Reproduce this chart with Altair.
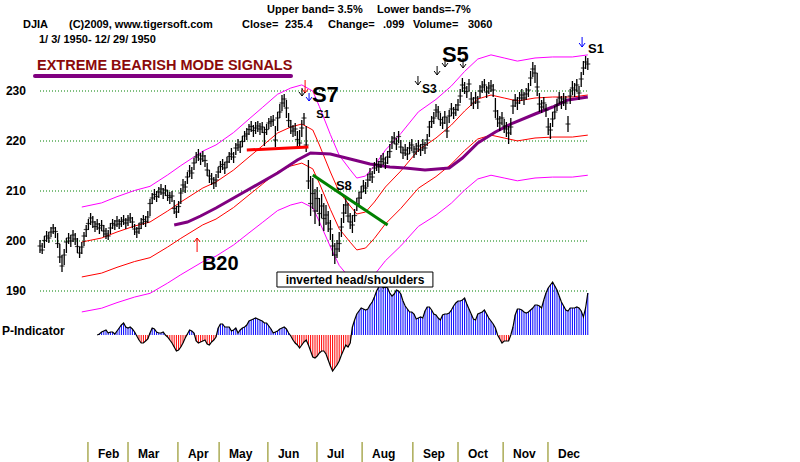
import altair as alt
import pandas as pd

# ---------------- data ----------------
close = [
    199.0, 198.2, 200.1, 201.0, 200.6, 201.8, 202.6, 201.9, 199.5, 196.8,
    195.0, 197.2, 199.8, 200.6, 200.0, 201.2, 200.4, 198.9, 197.6, 198.8,
    201.0, 202.3, 203.5, 204.6, 203.8, 202.9, 203.4, 202.6, 203.1, 202.0,
    201.4, 201.0, 202.6, 203.5, 203.2, 204.0, 203.4, 203.9, 204.2, 203.6,
    204.2, 204.6, 203.8, 202.4, 201.8, 202.5, 203.6, 204.3, 203.9, 204.8,
    207.5, 208.6, 209.3, 208.9, 209.8, 210.4, 209.6, 210.2, 209.1, 208.7,
    209.0, 206.5, 205.8, 206.9, 209.6, 211.2, 210.8, 212.8, 214.0, 213.6,
    215.6, 216.8, 217.2, 216.4, 217.0, 216.1, 214.2, 213.0, 212.4, 211.6,
    212.2, 213.8, 214.9, 215.3, 214.6, 215.8, 216.9, 217.4, 216.8, 218.6,
    219.2, 218.8, 219.9, 221.0, 221.4, 222.3, 222.9, 222.1, 222.6, 223.0,
    222.4, 222.8, 221.7, 222.3, 223.6, 223.9, 224.2, 220.2, 224.6, 225.8,
    227.6, 228.4, 226.6, 224.1, 222.8, 222.0, 222.4, 220.3, 219.6, 222.6,
    224.6, 219.2, 212.0, 207.5, 209.5, 206.0, 208.5, 205.5, 207.0, 204.5,
    205.2, 203.6, 202.4, 199.0, 197.2, 198.4, 199.5, 202.8, 205.6, 207.2,
    205.0, 203.8, 203.2, 205.1, 207.4, 208.6, 209.8, 211.0, 210.6, 212.2,
    213.4, 212.8, 214.6, 215.3, 214.8, 215.9, 216.4, 215.6, 216.8, 217.9,
    219.8, 220.6, 219.4, 220.9, 218.8, 217.6, 218.2, 217.4, 218.6, 219.2,
    217.8, 218.4, 219.0, 218.2, 219.3, 218.6, 220.2, 222.8, 223.9, 224.6,
    226.2, 225.8, 224.3, 223.6, 224.8, 222.0, 225.0, 226.4, 225.6, 226.3,
    227.2, 229.0, 231.2, 230.6, 229.9, 231.4, 228.4, 227.6, 228.6, 227.8,
    230.0, 230.8, 231.2, 229.8, 230.6, 231.0, 230.2, 226.0, 224.4, 223.6,
    224.6, 223.0, 222.4, 221.6, 222.8, 227.0, 228.2, 227.6, 228.6, 229.2,
    228.6, 229.4, 230.2, 232.6, 234.4, 233.6, 230.8, 227.4, 226.8, 227.6,
    226.2, 222.8, 222.2, 224.4, 225.8, 227.2, 228.6, 227.8, 228.4, 227.6,
    223.4, 229.0, 230.6, 230.2, 231.2, 229.6, 232.4, 234.6, 235.8, 235.4,
]
high = [
    200.2, 199.6, 201.0, 202.0, 201.8, 202.8, 203.4, 202.8, 201.6, 199.4,
    197.2, 198.4, 200.6, 201.6, 201.2, 202.2, 201.6, 200.6, 198.8, 199.8,
    201.8, 203.2, 204.4, 205.6, 205.0, 204.0, 204.4, 203.6, 204.2, 203.2,
    202.6, 202.2, 203.6, 204.4, 204.2, 205.0, 204.4, 204.8, 205.2, 204.6,
    205.2, 205.6, 204.8, 203.4, 202.8, 203.6, 204.6, 205.2, 205.0, 206.0,
    208.4, 209.6, 210.4, 210.0, 210.8, 211.4, 210.6, 211.2, 210.2, 209.8,
    210.0, 208.2, 207.0, 208.0, 210.6, 212.4, 212.0, 213.8, 215.2, 214.8,
    216.6, 217.8, 218.4, 217.6, 218.0, 217.2, 215.6, 214.2, 213.6, 212.8,
    213.4, 214.8, 216.0, 216.4, 215.8, 216.8, 217.8, 218.6, 217.8, 219.6,
    220.4, 220.0, 221.0, 222.0, 222.6, 223.4, 224.0, 223.2, 223.8, 224.0,
    223.6, 223.8, 222.8, 223.4, 224.6, 225.0, 225.2, 223.0, 225.8, 227.4,
    229.2, 229.4, 228.2, 225.6, 224.2, 223.2, 223.6, 222.0, 222.2, 224.2,
    225.6, 223.0, 216.2, 213.0, 212.6, 210.4, 210.8, 208.6, 209.4, 207.6,
    207.2, 206.0, 204.2, 201.4, 199.6, 200.2, 201.8, 204.6, 207.4, 208.8,
    207.6, 205.6, 205.2, 206.4, 208.6, 209.8, 211.0, 212.2, 211.8, 213.4,
    214.6, 214.0, 215.8, 216.6, 216.0, 217.2, 217.6, 216.8, 218.0, 219.4,
    221.0, 221.8, 220.6, 222.0, 220.2, 218.8, 219.4, 218.8, 219.8, 220.4,
    219.0, 219.6, 220.2, 219.4, 220.4, 219.8, 221.4, 224.0, 225.0, 225.8,
    227.4, 227.0, 225.6, 224.8, 226.0, 224.8, 226.2, 227.6, 226.8, 227.4,
    228.4, 230.4, 232.6, 231.8, 231.0, 232.4, 229.8, 228.8, 229.8, 229.0,
    231.2, 232.0, 232.4, 231.0, 231.8, 232.2, 231.4, 228.6, 226.2, 225.0,
    225.8, 224.4, 223.8, 223.0, 224.6, 228.2, 229.4, 228.8, 229.8, 230.4,
    229.8, 230.6, 231.6, 234.0, 235.8, 235.2, 233.6, 229.6, 228.2, 228.8,
    227.4, 224.6, 223.6, 225.8, 227.0, 228.4, 229.8, 229.0, 229.6, 229.0,
    225.0, 230.4, 232.0, 231.6, 232.4, 231.0, 233.8, 236.0, 237.0, 236.6,
]
low = [
    197.6, 197.4, 198.6, 199.8, 199.6, 200.8, 201.4, 200.6, 198.6, 195.6,
    193.8, 195.2, 197.6, 199.4, 198.8, 199.8, 199.2, 197.6, 196.6, 197.4,
    199.0, 200.8, 202.2, 203.2, 202.6, 201.8, 202.2, 201.4, 202.0, 200.8,
    200.4, 200.2, 201.4, 202.4, 202.2, 202.8, 202.4, 202.8, 203.2, 202.4,
    203.0, 203.6, 202.6, 201.2, 200.6, 201.4, 202.4, 203.2, 202.8, 203.6,
    205.0, 207.4, 208.2, 207.8, 208.6, 209.2, 208.4, 209.0, 208.0, 207.4,
    207.8, 205.4, 204.6, 205.6, 207.4, 209.8, 209.6, 211.4, 212.8, 212.4,
    214.2, 215.6, 216.0, 215.2, 215.8, 214.8, 213.0, 211.6, 211.2, 210.4,
    210.8, 212.6, 213.6, 214.2, 213.4, 214.6, 215.6, 216.2, 215.6, 217.2,
    218.0, 217.6, 218.8, 219.8, 220.2, 221.2, 221.8, 220.8, 221.4, 221.8,
    221.2, 221.6, 219.0, 221.2, 222.4, 222.8, 223.0, 218.8, 222.0, 224.6,
    226.0, 226.8, 224.6, 222.8, 221.4, 220.8, 221.0, 218.8, 218.6, 220.8,
    223.2, 217.8, 210.4, 205.0, 206.4, 203.4, 205.8, 203.0, 204.6, 202.0,
    203.2, 201.8, 200.2, 197.0, 195.4, 196.6, 197.8, 200.8, 203.6, 205.4,
    203.8, 202.4, 201.6, 203.8, 206.0, 207.2, 208.4, 209.8, 209.4, 210.8,
    212.0, 211.6, 213.4, 214.0, 213.6, 214.6, 215.2, 214.4, 215.4, 216.6,
    218.4, 219.4, 218.2, 219.6, 217.6, 216.4, 217.0, 216.2, 217.4, 218.0,
    216.6, 217.2, 217.8, 217.0, 218.0, 217.4, 219.0, 220.8, 222.6, 223.4,
    224.8, 224.4, 223.0, 222.4, 223.4, 220.6, 223.6, 225.0, 224.4, 225.0,
    226.0, 227.6, 229.8, 229.4, 228.6, 230.0, 227.0, 226.4, 227.4, 226.4,
    228.6, 229.6, 230.0, 228.6, 229.4, 229.8, 228.8, 224.6, 222.8, 222.0,
    223.2, 221.6, 220.8, 219.4, 221.2, 225.4, 226.8, 226.2, 227.4, 228.0,
    227.2, 228.2, 228.8, 231.0, 232.8, 231.6, 229.0, 225.8, 225.6, 226.4,
    224.8, 221.2, 220.4, 222.8, 224.4, 226.0, 227.4, 226.4, 227.0, 226.2,
    221.8, 227.4, 229.2, 228.8, 229.8, 228.2, 230.8, 233.2, 234.4, 234.2,
]

# 21-day moving average (red), read at its vertices
ma_day = [19, 28, 35, 43, 50, 58, 64, 74, 80, 88, 95, 101, 108, 114, 119, 124,
          127, 132, 136, 141, 144, 148, 152, 157, 164, 172, 180, 187, 193, 199,
          205, 211, 217, 225, 233, 242, 249]
ma_val = [199.8, 200.6, 201.8, 203.0, 203.8, 206.0, 207.8, 210.6, 211.8, 214.2,
          216.8, 219.0, 221.6, 222.8, 223.4, 222.2, 219.2, 213.8, 209.8, 207.0,
          205.4, 205.8, 207.8, 210.8, 214.0, 218.2, 220.6, 223.2, 226.0, 228.4,
          229.2, 228.6, 228.0, 228.6, 228.8, 228.8, 229.2]
UPPER_PCT = 3.5
LOWER_PCTS = [-3.5, -7.0]

# longer moving average (thick purple)
slow_day = [61, 67, 73, 80, 92, 108, 117, 123, 132, 141, 150, 159, 166, 175,
            186, 192, 199, 207, 215, 225, 233, 240, 249]
slow_val = [203.2, 203.8, 205.0, 206.6, 209.6, 213.6, 216.2, 217.6, 217.4,
            216.4, 215.4, 214.8, 214.6, 214.2, 214.6, 216.6, 219.6, 221.8,
            223.6, 225.4, 226.8, 228.2, 228.8]

neck_day = [94, 122]
neck_val = [218.2, 218.8]
trend_day = [124, 158]
trend_val = [213.2, 203.2]

p_start = 26
p_ind = [
    0, 1, 3, 4, 5, 2, 3, 3, 1, 4,
    7, 10, 12, 8, 7, 8, 6, 3, -1, -5,
    -8, -8, -6, -4, 2, 7, 6, 3, 2, 2,
    3, 0, -2, -5, -8, -12, -16, -15, -12, -8,
    -3, 1, 5, 4, 2, -6, -8, -7, -6, -5,
    -9, -10, -7, -5, -2, 7, 11, 11, 8, 8,
    8, 4, 5, 7, 2, 5, 7, 8, 10, 14,
    15, 16, 17, 16, 15, 14, 12, 12, 9, 6,
    2, 3, 4, 6, 7, 8, 6, 2, -1, -5,
    -8, -10, -13, -10, -7, -5, -10, -16, -22, -23,
    -21, -18, -16, -16, -19, -25, -31, -36, -33, -30,
    -26, -20, -15, -10, -12, -8, 8, 15, 21, 24,
    27, 26, 25, 26, 30, 33, 38, 44, 48, 50,
    47, 48, 47, 42, 39, 41, 45, 44, 41, 34,
    29, 26, 23, 23, 21, 16, 17, 18, 17, 24,
    28, 28, 25, 21, 20, 17, 15, 20, 21, 21,
    22, 25, 29, 32, 34, 34, 35, 37, 31, 26,
    21, 16, 15, 21, 22, 23, 25, 21, 17, 14,
    11, 7, 0, -4, -8, -6, -6, -6, 0, 8,
    20, 26, 26, 25, 23, 22, 23, 25, 27, 30,
    30, 29, 27, 35, 42, 47, 50, 53, 49, 45,
    39, 33, 29, 25, 24, 27, 27, 27, 28, 27,
    24, 18, 27, 42,
]

months = ["Feb", "Mar", "Apr", "May", "Jun", "Jul", "Aug", "Sep", "Oct", "Nov", "Dec"]
month_day = [21.8, 40.0, 62.7, 81.4, 103.6, 125.9, 146.4, 169.5, 190.0, 210.5, 230.9]
grid_vals = [190, 200, 210, 220, 230]

# ---------------- tables ----------------
bars = pd.DataFrame({"day": list(range(len(close))), "lo": low, "hi": high, "c": close})
ma = pd.DataFrame({"day": ma_day, "ma": ma_val})
slow = pd.DataFrame({"day": slow_day, "v": slow_val})
neck = pd.DataFrame({"day": neck_day, "v": neck_val})
trend = pd.DataFrame({"day": trend_day, "v": trend_val})
pdf = pd.DataFrame({"day": [p_start + k for k in range(len(p_ind))], "p": p_ind})
grid = pd.DataFrame({"g": grid_vals})
mon = pd.DataFrame({"m": months, "day": month_day})

FONT = "Liberation Sans"
DAY_PX = 2.2     # pixels per trading day
PRICE_PX = 5.0   # pixels per index point
xs = alt.Scale(domain=[-40 / DAY_PX, 760 / DAY_PX], nice=False, zero=False)
ys = alt.Scale(domain=[155.8, 248.2], nice=False, zero=False)
ps = alt.Scale(domain=[-127, 335], nice=False, zero=False)


def X(f):
    return alt.X(f, type="quantitative", scale=xs, axis=None)


def Y(f):
    return alt.Y(f, type="quantitative", scale=ys, axis=None)


layers = []

# dotted grid
layers.append(alt.Chart(grid).mark_rule(color="#008000", strokeDash=[1, 2], strokeWidth=1).encode(
    x=alt.X(datum=0, scale=xs, axis=None), x2=alt.X2(datum=249.5), y=Y("g")))

# y labels
layers.append(alt.Chart(grid).mark_text(align="right", baseline="middle", font=FONT,
                                        fontWeight="bold", fontSize=12, color="black").encode(
    x=alt.X(datum=-6.4, scale=xs, axis=None), y=Y("g"), text=alt.Text("g:Q", format="d")))

# bands from the moving average
base_ma = alt.Chart(ma)
layers.append(base_ma.transform_calculate(u=f"datum.ma*(1+{UPPER_PCT}/100)").mark_line(
    color="#ff00ff", strokeWidth=1).encode(x=X("day"), y=Y("u")))
layers.append(base_ma.mark_line(color="#ff0000", strokeWidth=1).encode(x=X("day"), y=Y("ma")))
layers.append(base_ma.transform_calculate(l1=f"datum.ma*(1+{LOWER_PCTS[0]}/100)").mark_line(
    color="#ff0000", strokeWidth=1).encode(x=X("day"), y=Y("l1")))
layers.append(base_ma.transform_calculate(l2=f"datum.ma*(1+{LOWER_PCTS[1]}/100)").mark_line(
    color="#ff00ff", strokeWidth=1).encode(x=X("day"), y=Y("l2")))

# slow MA
layers.append(alt.Chart(slow).mark_line(color="#800080", strokeWidth=3).encode(x=X("day"), y=Y("v")))

# price bars
layers.append(alt.Chart(bars).mark_rule(color="black", strokeWidth=1.3).encode(
    x=X("day"), y=Y("lo"), y2="hi"))
layers.append(alt.Chart(bars).mark_tick(orient="horizontal", color="black", size=5, thickness=1.2).encode(
    x=X("day"), y=Y("c")))

# neckline and trend line
layers.append(alt.Chart(neck).mark_line(color="#ff0000", strokeWidth=3).encode(x=X("day"), y=Y("v")))
layers.append(alt.Chart(trend).mark_line(color="#008000", strokeWidth=3).encode(x=X("day"), y=Y("v")))

# P-indicator
layers.append(alt.Chart(pdf).mark_rule(strokeWidth=1).encode(
    x=X("day"),
    y=alt.Y("p:Q", scale=ps, axis=None),
    y2=alt.Y2(datum=0),
    color=alt.condition("datum.p >= 0", alt.value("#0000ff"), alt.value("#ff0000"))))
layers.append(alt.Chart(pdf).mark_line(color="black", strokeWidth=1.2).encode(
    x=X("day"), y=alt.Y("p:Q", scale=ps, axis=None)))

# month separators and labels
layers.append(alt.Chart(mon).mark_rule(color="#808000", strokeWidth=1).encode(
    x=X("day"), y=alt.Y(datum=159.8, scale=ys, axis=None), y2=alt.Y2(datum=155.8)))
layers.append(alt.Chart(mon).mark_text(align="left", baseline="alphabetic", dx=10, font=FONT,
                                       fontWeight="bold", fontSize=12, color="black").encode(
    x=X("day"), y=alt.Y(datum=156.6, scale=ys, axis=None), text="m:N"))


def txt(label, day, price, size, color="black", weight="bold", align="left", font=FONT, baseline="alphabetic"):
    return alt.Chart(pd.DataFrame({"t": [label]})).mark_text(
        align=align, baseline=baseline, font=font, fontSize=size, fontWeight=weight, color=color).encode(
        x=alt.X(datum=day, scale=xs, axis=None), y=alt.Y(datum=price, scale=ys, axis=None), text="t:N")


def arrow(day, tip, color="black", length=9, up=False):
    """Thin signal arrow: shaft plus an open head whose point is at (day, tip)."""
    s = -1 if up else 1
    hx = 3 / DAY_PX
    hy = s * 4 / PRICE_PX
    head = pd.DataFrame({"d": [day - hx, day, day + hx], "v": [tip + hy, tip, tip + hy], "o": [0, 1, 2]})
    shaft = alt.Chart(pd.DataFrame({"a": [0]})).mark_rule(color=color, strokeWidth=1).encode(
        x=alt.X(datum=day, scale=xs, axis=None),
        y=alt.Y(datum=tip, scale=ys, axis=None),
        y2=alt.Y2(datum=tip + s * length / PRICE_PX))
    hd = alt.Chart(head).mark_line(color=color, strokeWidth=1).encode(
        x=X("d"), y=Y("v"), order="o:Q")
    return [shaft, hd]


# signal annotations
layers += [
    txt("S7", 123.6, 227.8, 22),
    txt("S1", 125.6, 224.6, 11),
    txt("S8", 134.5, 210.2, 13),
    txt("S5", 182.7, 235.8, 22),
    txt("S3", 173.6, 229.6, 12),
    txt("S1", 249.1, 237.6, 13),
    txt("B20", 73.6, 194.2, 20),
]
layers += arrow(120.5, 229.6, color="#ff0000", length=13)
layers += arrow(119.1, 229.0, length=8)
layers += arrow(122.3, 228.0, color="#0000ff", length=8)
layers += arrow(180.5, 233.2)
layers += arrow(184.1, 234.8)
layers += arrow(192.3, 234.6, length=10)
layers += arrow(171.8, 231.2)
layers += arrow(246.4, 238.8, color="#0000ff", length=10)
layers += arrow(71.4, 200.6, color="#ff0000", length=14, up=True)

# inverted head/shoulders box
box = pd.DataFrame({"t": ["inverted head/shoulders"]})
layers.append(alt.Chart(box).mark_rect(fill="white", stroke="black", strokeWidth=1).encode(
    x=alt.X(datum=107.7, scale=xs, axis=None), x2=alt.X2(datum=178.6),
    y=alt.Y(datum=193.8, scale=ys, axis=None), y2=alt.Y2(datum=190.8)))
layers.append(txt("inverted head/shoulders", 143.2, 191.5, 12, align="center"))


# header, title and labels (page layout)
def ptxt(label, x, y, size=11, color="black", weight="bold"):
    return alt.Chart(pd.DataFrame({"t": [label]})).mark_text(
        align="left", baseline="alphabetic", font=FONT, fontSize=size, fontWeight=weight, color=color).encode(
        x=alt.value(x), y=alt.value(y), text="t:N")


layers += [
    ptxt("Upper band= 3.5%", 267, 13),
    ptxt("Lower bands=-7%", 377, 13),
    ptxt("DJIA", 23, 28),
    ptxt("(C)2009, www.tigersoft.com", 69, 28),
    ptxt("Close=", 242, 28),
    ptxt("235.4", 285, 28),
    ptxt("Change=", 328, 28),
    ptxt(".099", 383, 28),
    ptxt("Volume=", 413, 28),
    ptxt("3060", 468, 28),
    ptxt("1/ 3/ 1950- 12/ 29/ 1950", 39, 43),
    ptxt("EXTREME BEARISH MODE SIGNALS", 37, 70, size=14.5, color="#8b0a0a"),
    ptxt("P-Indicator", 2, 335, size=12),
]
layers.append(alt.Chart(pd.DataFrame({"a": [0]})).mark_rule(color="#800080", strokeWidth=4, strokeCap="round").encode(
    x=alt.value(35), x2=alt.value(291), y=alt.value(76)))

chart = alt.layer(*layers).resolve_scale(y="independent").properties(
    width=800, height=462, padding=0, background="white",
    autosize=alt.AutoSizeParams(type="none"),
).configure_view(stroke=None)

chart.save("out.html", embed_options={"renderer": "svg", "actions": False})
